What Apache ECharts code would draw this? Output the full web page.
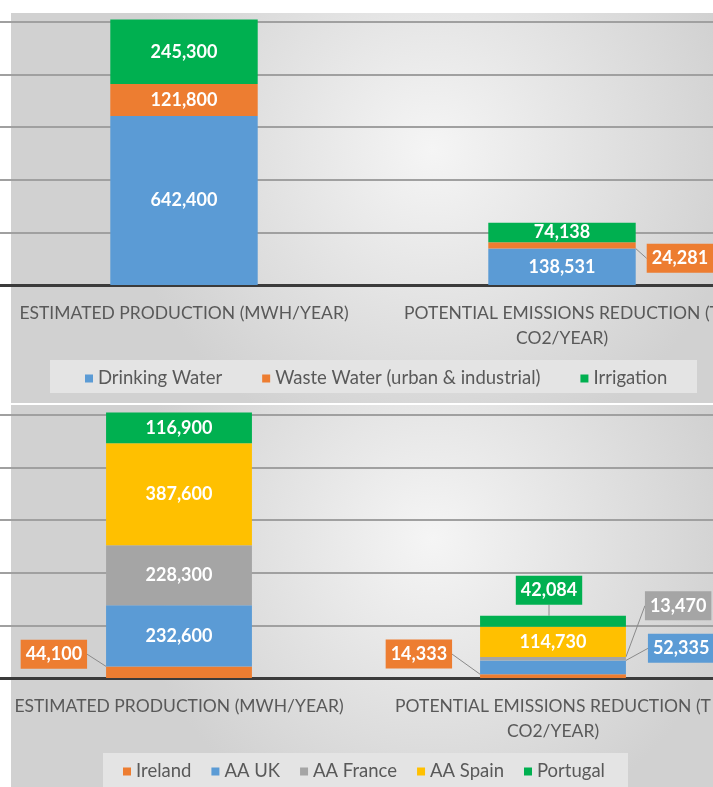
<!DOCTYPE html>
<html lang="en">

<head>
    <meta charset="UTF-8">
    <title>Stacked bars</title>
    <script src="https://cdn.jsdelivr.net/npm/echarts@6/dist/echarts.min.js"></script>
    <style>
        html, body { margin: 0; padding: 0; background: #fff; }
    </style>
</head>

<body>
<div id="main" style="width: 713px; height: 787px;"></div>
<script>
    // categories and tick values
    const categories = ['ESTIMATED PRODUCTION (MWH/YEAR)', 'POTENTIAL EMISSIONS REDUCTION (T\nCO2/YEAR)'];
    const axisMax = 1000000;
    const axisStep = 200000;

    // upper chart: by use
    const drinkingWater = [642400, 138531];
    const wasteWater = [121800, 24281];
    const irrigation = [245300, 74138];

    // lower chart: by country
    const ireland = [44100, 14333];
    const aaUk = [232600, 52335];
    const aaFrance = [228300, 13470];
    const aaSpain = [387600, 114730];
    const portugal = [116900, 42084];

    const FONT = 'Lato';
    const C = {
        blue: '#5b9bd5',
        orange: '#ed7d31',
        gray: '#a5a5a5',
        yellow: '#ffc000',
        green: '#00b050'
    };

    // which labels sit outside the bar, with a leader line
    function makeSeries(name, values, color, gridIdx, outside) {
        outside = outside || {};
        return {
            name: name,
            type: 'bar',
            stack: 'g' + gridIdx,
            xAxisIndex: gridIdx,
            yAxisIndex: gridIdx,
            barWidth: '39%',
            clip: false,
            itemStyle: { color: color },
            label: {
                show: true,
                position: 'inside',
                color: '#fff',
                fontFamily: FONT,
                fontWeight: 'bold',
                fontSize: 18,
                formatter: p => p.value.toLocaleString('en-US')
            },
            labelLayout: function (p) {
                const o = outside[p.dataIndex];
                if (!o) return {};
                const r = p.rect;
                if (o.side === 'left') {
                    return { x: r.x - o.gap, y: r.y + r.height / 2 + o.dy, align: 'right', verticalAlign: 'middle' };
                }
                if (o.side === 'right') {
                    return { x: r.x + r.width + o.gap, y: r.y + r.height / 2 + o.dy, align: 'left', verticalAlign: 'middle' };
                }
                return { x: r.x + r.width / 2 + (o.dx || 0), y: r.y - o.gap, align: 'center', verticalAlign: 'bottom' };
            },
            data: values.map((v, i) => {
                if (!outside[i]) return v;
                return {
                    value: v,
                    label: { backgroundColor: color, padding: [6, 5, 5, 5] },
                    labelLine: { show: true, lineStyle: { color: '#8a8a8a', width: 1 } }
                };
            })
        };
    }

    function xAxisFor(gridIdx) {
        return {
            type: 'category',
            gridIndex: gridIdx,
            data: categories,
            axisLine: { lineStyle: { color: '#3b3b3b', width: 3 } },
            axisTick: { show: false },
            axisLabel: {
                interval: 0,
                color: '#595959',
                fontFamily: FONT,
                fontSize: 17.5,
                lineHeight: 25,
                margin: 16
            }
        };
    }

    function yAxisFor(gridIdx) {
        return {
            type: 'value',
            gridIndex: gridIdx,
            min: 0,
            max: axisMax,
            interval: axisStep,
            axisLabel: { show: false },
            axisLine: { show: false },
            axisTick: { show: false },
            splitLine: { lineStyle: { color: '#a0a0a0', width: 2 } }
        };
    }

    function bgRect(x, y, w, h) {
        return {
            type: 'rect',
            z: -10,
            silent: true,
            shape: { x: x, y: y, width: w, height: h },
            style: {
                fill: {
                    type: 'radial', x: 0.6, y: 0.35, r: 0.8,
                    colorStops: [{ offset: 0, color: '#f5f5f5' }, { offset: 1, color: '#d1d1d1' }]
                }
            }
        };
    }

    function legendBox(x, y, w, h) {
        return {
            type: 'rect', z: -5, silent: true,
            shape: { x: x, y: y, width: w, height: h },
            style: { fill: '#e4e4e4' }
        };
    }

    const legendText = { color: '#595959', fontFamily: FONT, fontSize: 18.5 };

    const chart = echarts.init(document.getElementById('main'));
    chart.setOption({
        animation: false,
        backgroundColor: '#ffffff',
        graphic: [
            bgRect(11, 13, 702, 390),
            bgRect(11, 405, 702, 382),
            legendBox(50, 360, 647, 33),
            legendBox(103, 753, 525, 34)
        ],
        grid: [
            { left: -5, width: 756, top: 22, height: 263, outerBoundsMode: 'none' },
            { left: -8, width: 748, top: 415, height: 263, outerBoundsMode: 'none' }
        ],
        xAxis: [xAxisFor(0), xAxisFor(1)],
        yAxis: [yAxisFor(0), yAxisFor(1)],
        legend: [
            {
                data: ['Drinking Water', 'Waste Water (urban & industrial)', 'Irrigation'],
                left: 80, top: 364,
                icon: 'rect', itemWidth: 8, itemHeight: 8, itemGap: 40,
                textStyle: legendText
            },
            {
                data: ['Ireland', 'AA UK', 'AA France', 'AA Spain', 'Portugal'],
                left: 118, top: 757,
                icon: 'rect', itemWidth: 8, itemHeight: 8, itemGap: 20,
                textStyle: legendText
            }
        ],
        series: [
            makeSeries('Drinking Water', drinkingWater, C.blue, 0),
            makeSeries('Waste Water (urban & industrial)', wasteWater, C.orange, 0, {
                1: { side: 'right', gap: 11, dy: 13 }
            }),
            makeSeries('Irrigation', irrigation, C.green, 0),

            makeSeries('Ireland', ireland, C.orange, 1, {
                0: { side: 'left', gap: 19, dy: -18 },
                1: { side: 'left', gap: 28, dy: -22 }
            }),
            makeSeries('AA UK', aaUk, C.blue, 1, {
                1: { side: 'right', gap: 22, dy: -19 }
            }),
            makeSeries('AA France', aaFrance, C.gray, 1, {
                1: { side: 'right', gap: 19, dy: -53 }
            }),
            makeSeries('AA Spain', aaSpain, C.yellow, 1),
            makeSeries('Portugal', portugal, C.green, 1, {
                1: { side: 'top', gap: 11, dx: -4 }
            })
        ]
    });
</script>
</body>

</html>
